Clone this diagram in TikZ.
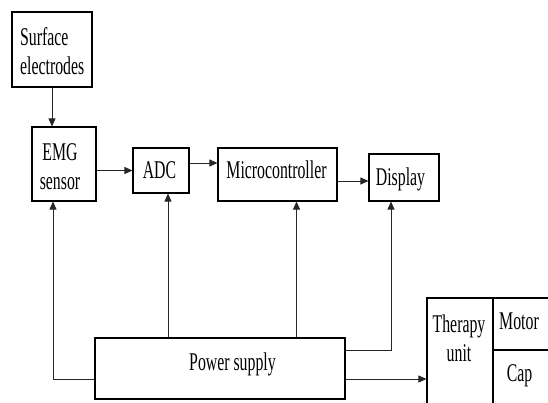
\documentclass[tikz,border=0pt]{standalone}
\usepackage{fontspec}
\usepackage{graphicx}
\setmainfont{Liberation Serif}
\usetikzlibrary{arrows.meta}
\newcommand\sqz[1]{\scalebox{0.62}[1]{#1}}
\tikzset{
  blk/.style={draw=black, line width=1.1pt, rectangle, inner sep=0pt},
  txt/.style={inner sep=0pt, font=\fontsize{25.5}{29}\selectfont},
  con/.style={draw=black!85, line width=0.8pt},
  arr/.style={con, -{Triangle[length=8pt,width=7pt]}}
}
\begin{document}
\begin{tikzpicture}[x=1pt,y=-1pt]
\clip (0,0) rectangle (548,403);
\fill[white] (0,0) rectangle (548,403);
% boxes
\node[blk, minimum width=80pt, minimum height=75pt] (se) at (52,49.5) {};
\node[blk, minimum width=64pt, minimum height=74pt] (emg) at (64,164) {};
\node[blk, minimum width=56pt, minimum height=45pt] (adc) at (161,170.5) {};
\node[blk, minimum width=119pt, minimum height=53pt] (mc) at (277.5,174.5) {};
\node[blk, minimum width=70pt, minimum height=47pt] (disp) at (404,177.5) {};
\node[blk, minimum width=250pt, minimum height=61pt] (ps) at (220,368.5) {};
\node[blk, minimum width=140pt, minimum height=130pt] (th) at (497,363) {};
\coordinate (dvt) at (493,298);
\coordinate (dvb) at (493,410);
\coordinate (dhl) at (493,350);
\coordinate (dhr) at (560,350);
\draw[line width=1.1pt] (dvt) -- (dvb);
\draw[line width=1.1pt] (dhl) -- (dhr);
% texts
\node[txt, anchor=base west] (set) at (20,45.7) {\sqz{\begin{tabular}[t]{@{}l@{}}Surface\\electrodes\end{tabular}}};
\node[txt, anchor=base] (emgt) at (60,160.5) {\sqz{\begin{tabular}[t]{@{}c@{}}EMG\\sensor\end{tabular}}};
\node[txt, anchor=base] (adct) at (159.5,178.3) {\sqz{ADC}};
\node[txt, anchor=base] (mct) at (276.5,179) {\sqz{Microcontroller}};
\node[txt, anchor=base] (dispt) at (400.5,185.7) {\sqz{Display}};
\node[txt, anchor=base] (pst) at (232.5,370) {\sqz{Power supply}};
\node[txt, anchor=base] (tht) at (459,332) {\sqz{\begin{tabular}[t]{@{}c@{}}Therapy\\unit\end{tabular}}};
\node[txt, anchor=base] (mot) at (519,329) {\sqz{Motor}};
\node[txt, anchor=base] (capt) at (519.5,381.7) {\sqz{Cap}};
% connectors
\draw[arr] (se.south) -- (se.south |- emg.north);
\draw[arr] (emg.east |- adc.west) -- (adc.west);
\draw[arr] (adc.east) ++(0,-7.5) coordinate (a1) -- (a1 -| mc.west);
\draw[arr] (mc.east |- disp.center) ++(0,3.5) coordinate (m1) -- (m1 -| disp.west);
\coordinate (lc) at (53,379);
\draw[arr] (ps.west |- lc) -- (lc) -- (lc |- emg.south);
\draw[arr] (ps.north -| 168,0) -- (168,0 |- adc.south);
\draw[arr] (ps.north -| 296.5,0) -- (296.5,0 |- mc.south);
\coordinate (dc) at (391,350);
\draw[arr] (ps.east |- dc) -- (dc) -- (dc |- disp.south);
\draw[arr] (ps.east |- lc) -- (lc -| th.west);
\end{tikzpicture}
\end{document}
